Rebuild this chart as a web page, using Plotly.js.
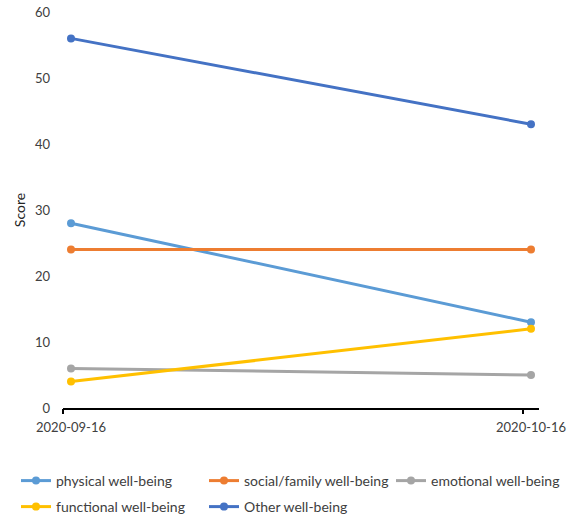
<!DOCTYPE html>
<html>
<head>
<meta charset="utf-8">
<script src="https://cdn.plot.ly/plotly-3.0.1.min.js"></script>
<style>html,body{margin:0;padding:0;background:#fff;}#chart{width:574px;height:522px;}</style>
</head>
<body>
<div id="chart"></div>
<script>
var categories = ["2020-09-16", "2020-10-16"];
var seriesNames = ["physical well-being", "social/family well-being", "emotional well-being", "functional well-being", "Other well-being"];
var physical = [28, 13];
var socialFamily = [24, 24];
var emotional = [6, 5];
var functional = [4, 12];
var other = [56, 43];
var yTicks = [0, 10, 20, 30, 40, 50, 60];

var seriesValues = [physical, socialFamily, emotional, functional, other];
var colors = ["#5B9BD5", "#ED7D31", "#A5A5A5", "#FFC000", "#4472C4"];
var legendIds = ["legend", "legend2", "legend3", "legend4", "legend5"];
// legend positions in pixels (left of symbol, center y)
var legendPx = [[16, 481], [204, 481], [391, 481], [16, 507], [204, 507]];

var L = 63, R = 35, T = 12, B = 114, W = 574, H = 522;
var pad = 8 / 460;

var traces = seriesValues.map(function(v, i) {
  return {
    x: [0, 1],
    y: v,
    name: seriesNames[i],
    type: "scatter",
    mode: "lines+markers",
    line: {color: colors[i], width: 3},
    marker: {color: colors[i], size: 8},
    legend: legendIds[i],
    cliponaxis: false
  };
});
// empty helper trace so the tick-mark-only overlay axis is drawn
traces.unshift({x: [], y: [], xaxis: "x2", yaxis: "y", type: "scatter", mode: "lines", showlegend: false, hoverinfo: "skip"});

var font = {family: "Lato, Liberation Sans, Arial, sans-serif", size: 13, color: "#404040"};
var legendFont = {family: "Lato, Liberation Sans, Arial, sans-serif", size: 14, color: "#404040"};
var layout = {
  width: W, height: H,
  margin: {l: L, r: R, t: T, b: B, autoexpand: false},
  paper_bgcolor: "#ffffff",
  plot_bgcolor: "#ffffff",
  font: font,
  showlegend: true,
  xaxis: {
    range: [-pad, 1 + pad],
    tickvals: [0, 1],
    ticktext: categories,
    showgrid: false,
    zeroline: false,
    showline: true,
    linecolor: "#000000",
    linewidth: 1.5,
    ticks: "outside",
    ticklen: 6,
    tickcolor: "rgba(0,0,0,0)",
    tickfont: font,
    ticklabelstandoff: 1,
    fixedrange: true
  },
  xaxis2: {
    overlaying: "x",
    side: "bottom",
    anchor: "y",
    range: [-pad, 1 + pad],
    tickvals: [-pad, 1 - pad],
    showticklabels: false,
    showgrid: false,
    zeroline: false,
    showline: false,
    ticks: "outside",
    ticklen: 5,
    tickwidth: 1.5,
    tickcolor: "#000000",
    fixedrange: true
  },
  yaxis: {
    range: [0, 60],
    tickvals: yTicks,
    showgrid: false,
    zeroline: false,
    showline: false,
    ticks: "",
    tickfont: font,
    ticklabelstandoff: 12,
    title: {text: "Score", font: {family: font.family, size: 14, color: "#262626"}, standoff: 6},
    fixedrange: true
  }
};
legendIds.forEach(function(id, i) {
  layout[id] = {
    xref: "container",
    yref: "container",
    x: legendPx[i][0] / W,
    y: 1 - legendPx[i][1] / H,
    xanchor: "left",
    yanchor: "middle",
    orientation: "h",
    font: legendFont,
    bgcolor: "rgba(0,0,0,0)",
    borderwidth: 0
  };
});

Plotly.newPlot("chart", traces, layout, {displayModeBar: false, staticPlot: true});
</script>
</body>
</html>
